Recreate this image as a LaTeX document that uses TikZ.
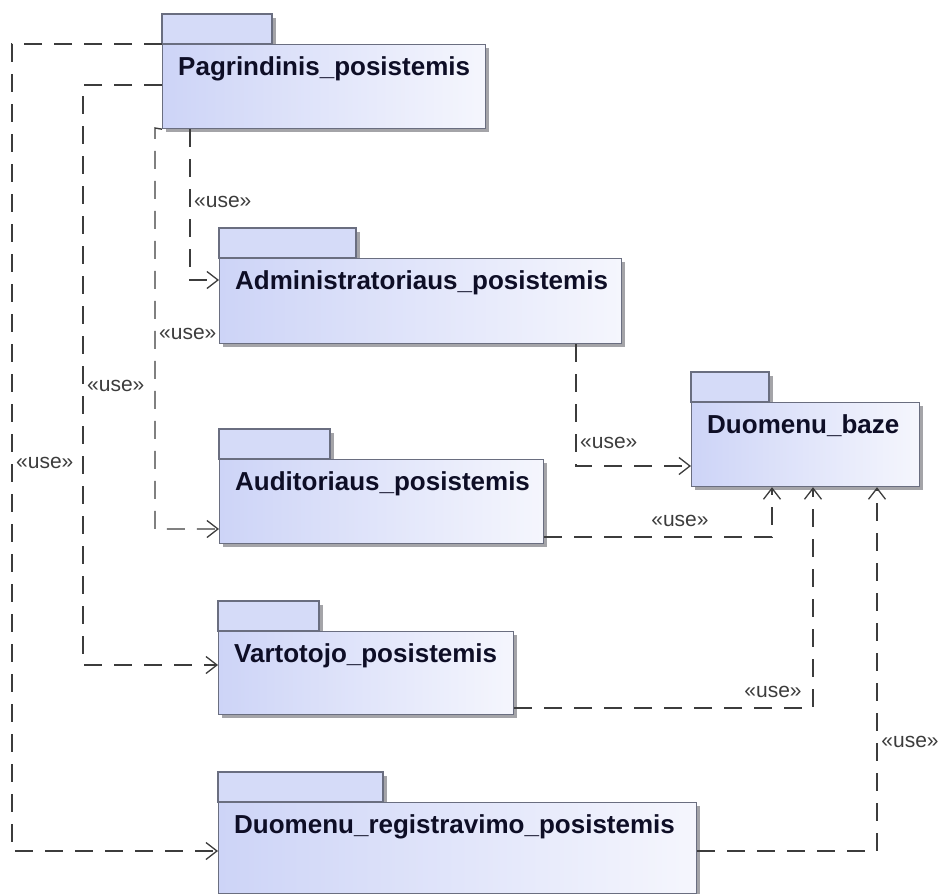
\documentclass[tikz,border=0pt]{standalone}
\usepackage{fontspec}
\setmainfont{Liberation Sans}
\usetikzlibrary{arrows.meta}

\definecolor{pkgblue}{HTML}{CDD4F7}
\definecolor{pkgpale}{HTML}{F5F6FD}
\definecolor{pkgtab}{HTML}{D5DBF8}
\definecolor{pkgedge}{HTML}{6A6E80}
\definecolor{pkgshadow}{HTML}{A4A4A8}
\definecolor{deplink}{HTML}{3C3C3C}
\definecolor{pkgtext}{HTML}{0E0E26}

\tikzset{
  pkgbody/.style={draw=pkgedge, line width=1.2pt, inner sep=0pt,
    left color=pkgblue, right color=pkgpale, anchor=north west},
  pkgtabbox/.style={draw=pkgedge, line width=1.2pt, fill=pkgtab},
  pkgshade/.style={fill=pkgshadow},
  pkgname/.style={font=\bfseries\fontsize{26}{26}\selectfont, text=pkgtext,
    anchor=base west, inner sep=0pt},
  dep/.style={draw=deplink, line width=1.4pt, dash pattern=on 18pt off 12pt,
    -{Straight Barb[length=11pt,width=17pt,line width=1.3pt]}},
  uselabel/.style={font=\fontsize{21}{21}\selectfont, text=deplink, inner sep=0pt}
}

% a package: shadow, tab, body node and its title
% #1 name, #2 left, #3 top of body, #4 width, #5 height, #6 tab width, #7 title
\newcommand{\umlpackage}[7]{
  \fill[pkgshade] (#2+4,#3-26) rectangle (#2+#6+4,#3+4);
  \fill[pkgshade] (#2+4,#3+4) rectangle (#2+#4+4,#3+#5+4);
  \draw[pkgtabbox] (#2,#3) rectangle (#2+#6,#3-30);
  \node[pkgbody, minimum width=#4pt, minimum height=#5pt] (#1) at (#2,#3) {};
  \node[pkgname] (#1T) at (#2+16,#3+31) {#7};
}

\begin{document}
\begin{tikzpicture}[x=1pt, y=-1pt]
  \useasboundingbox (0,0) rectangle (943,894);

  \umlpackage{pag}{162}{44}{323}{84}{110}{Pagrindinis\_posistemis}
  \umlpackage{adm}{219}{258}{402}{85}{137}{Administratoriaus\_posistemis}
  \umlpackage{db}{691}{402}{228}{84}{78}{Duomenu\_baze}
  \umlpackage{aud}{219}{459}{324}{84}{111}{Auditoriaus\_posistemis}
  \umlpackage{var}{218}{631}{295}{83}{101}{Vartotojo\_posistemis}
  \umlpackage{reg}{218}{802}{478}{91}{165}{Duomenu\_registravimo\_posistemis}

  % dependencies of the main subsystem
  \draw[dep] (pag.north west) -- (12,44) -- (12,851) -- (reg.west |- 0,851);
  \draw[dep] (pag.west |- 0,85) -- (83,85) -- (83,665) -- (var.west |- 0,665);
  \draw[dep] (pag.south west) -- (155,128) -- (155,529) -- (aud.west |- 0,529);
  \draw[dep] (pag.south west -| 190,0) -- (190,280) -- (adm.west |- 0,280);

  % dependencies on the database
  \draw[dep] (adm.south west -| 576,0) -- (576,466) -- (db.west |- 0,466);
  \draw[dep] (aud.east |- 0,537) -- (772,537) -- (db.south west -| 772,0);
  \draw[dep] (var.east |- 0,708) -- (813,708) -- (db.south west -| 813,0);
  \draw[dep] (reg.east |- 0,851) -- (877,851) -- (db.south west -| 877,0);

  % stereotype labels
  \node[uselabel, anchor=west] (u1) at (16,463) {«use»};
  \node[uselabel, anchor=west] (u2) at (87,386) {«use»};
  \node[uselabel, anchor=west] (u3) at (159,334) {«use»};
  \node[uselabel, anchor=west] (u4) at (194,202) {«use»};
  \node[uselabel, anchor=west] (u5) at (580,443) {«use»};
  \node[uselabel] (u6) at (680,521) {«use»};
  \node[uselabel] (u7) at (773,692) {«use»};
  \node[uselabel] (u8) at (910,742) {«use»};
\end{tikzpicture}
\end{document}
